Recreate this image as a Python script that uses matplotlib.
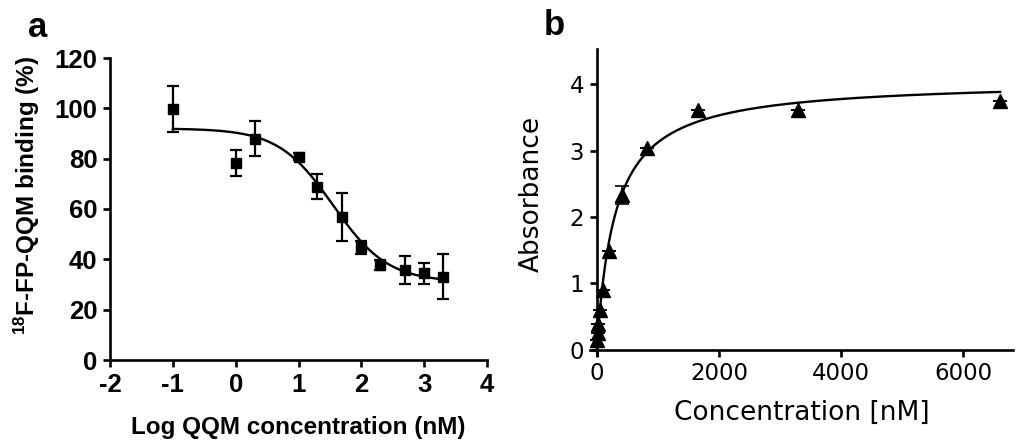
import numpy as np
import matplotlib
matplotlib.use('Agg')
import matplotlib.pyplot as plt

# ---------------- data: panel a (competition binding) ----------------
log_conc = [-1.0, 0.0, 0.3, 1.0, 1.3, 1.7, 2.0, 2.3, 2.7, 3.0, 3.3]
binding = [99.7, 78.3, 88.0, 80.8, 68.9, 56.7, 44.8, 37.7, 35.8, 34.4, 33.1]
binding_err = [9.0, 5.0, 7.0, 1.5, 5.0, 9.5, 2.5, 2.0, 5.7, 4.3, 9.0]
# sigmoidal fit parameters
fit_a_top = 92.0
fit_a_bottom = 31.0
fit_a_logic50 = 1.55
fit_a_hill = 1.0
xticks_a = [-2, -1, 0, 1, 2, 3, 4]
yticks_a = [0, 20, 40, 60, 80, 100, 120]

# ---------------- data: panel b (saturation binding) ----------------
conc_b = [6.4, 12.9, 25.8, 51.6, 103, 206, 412, 825, 1650, 3300, 6600]
absorb = [0.15, 0.25, 0.38, 0.60, 0.90, 1.48, 2.33, 3.04, 3.61, 3.61, 3.74]
absorb_err = [0, 0, 0, 0, 0, 0, 0.13, 0, 0, 0, 0]
# one-site binding fit parameters
fit_b_bmax = 4.06
fit_b_kd = 300.0
xticks_b = [0, 2000, 4000, 6000]
yticks_b = [0, 1, 2, 3, 4]

plt.rcParams['mathtext.fontset'] = 'custom'
plt.rcParams['mathtext.rm'] = 'Liberation Sans:bold'
plt.rcParams['mathtext.default'] = 'rm'
plt.rcParams['axes.unicode_minus'] = False

fig = plt.figure(figsize=(10.16, 4.45), dpi=100)

# ---------------- panel a ----------------
fa = 'Liberation Sans'
axa = fig.add_axes([110/1016, 1-360/445, 377/1016, 302/445])
xa = np.linspace(min(log_conc), max(log_conc), 300)
ya = fit_a_bottom + (fit_a_top - fit_a_bottom) / (1 + 10 ** ((xa - fit_a_logic50) * fit_a_hill))
axa.plot(xa, ya, color='black', lw=1.7, zorder=2)
axa.errorbar(log_conc, binding, yerr=binding_err, fmt='s', color='black',
             ms=7, elinewidth=1.6, capsize=4.5, capthick=1.6, zorder=3)
axa.set_xlim(-2, 4)
axa.set_ylim(0, 120)
axa.set_xticks(xticks_a)
axa.set_yticks(yticks_a)
for s in ['top', 'right']:
    axa.spines[s].set_visible(False)
for s in ['left', 'bottom']:
    axa.spines[s].set_linewidth(1.9)
axa.tick_params(direction='out', length=5, width=1.9, pad=4, labelsize=18.5)
for lab in axa.get_xticklabels() + axa.get_yticklabels():
    lab.set_fontfamily(fa)
    lab.set_fontweight('bold')
axa.set_xlabel('Log QQM concentration (nM)', fontsize=17.5, fontweight='bold', family=fa)
axa.set_ylabel(r'$^{18}$F-FP-QQM binding (%)', fontsize=17.5, fontweight='bold', family=fa)
axa.xaxis.set_label_coords(0.5, -0.185)
axa.yaxis.set_label_coords(-0.18, 0.546)
fig.text(28/1016, 1-37/445, 'a', fontsize=25, fontweight='bold', family=fa, ha='left', va='baseline')

# ---------------- panel b ----------------
fb = 'DejaVu Sans'
axb = fig.add_axes([590/1016, 1-355/445, 423/1016, 306/445])
xb = np.linspace(0, max(conc_b), 600)
yb = fit_b_bmax * xb / (fit_b_kd + xb)
axb.plot(xb, yb, color='black', lw=1.7, zorder=2)
axb.errorbar(conc_b, absorb, yerr=absorb_err, fmt='^', color='black',
             ms=9.5, elinewidth=1.2, capsize=5, capthick=1.2, zorder=3)
axb.set_xlim(-110, 6810)
axb.set_ylim(-0.08, 4.53)
axb.spines['left'].set_position(('data', 0))
axb.spines['bottom'].set_position(('data', 0))
for s in ['top', 'right']:
    axb.spines[s].set_visible(False)
for s in ['left', 'bottom']:
    axb.spines[s].set_linewidth(1.9)
axb.set_xticks(xticks_b)
axb.set_yticks(yticks_b)
axb.tick_params(direction='out', length=5, width=1.9, pad=4, labelsize=16.5)
for lab in axb.get_xticklabels() + axb.get_yticklabels():
    lab.set_fontfamily(fb)
axb.set_xlabel('Concentration [nM]', fontsize=19, family=fb)
axb.set_ylabel('Absorbance', fontsize=19, family=fb)
axb.xaxis.set_label_coords(0.5, -0.147)
axb.yaxis.set_label_coords(-0.106, 0.526)
fig.text(544/1016, 1-35/445, 'b', fontsize=25, fontweight='bold', family=fa, ha='left', va='baseline')

fig.savefig('out.png', dpi=100)
